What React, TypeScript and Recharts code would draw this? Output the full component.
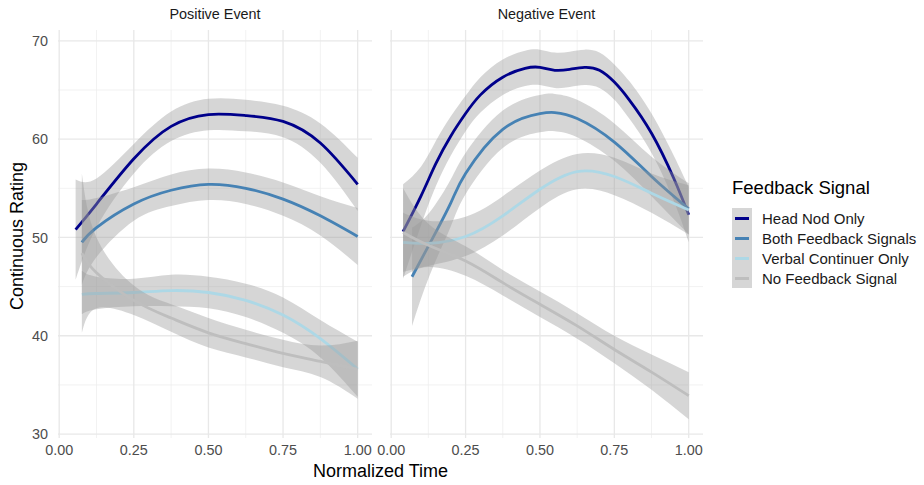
import React from "react";
import { ComposedChart, Line, Area, XAxis, YAxis, CartesianGrid } from "recharts";

const FONT = "'Liberation Sans', Arial, Helvetica, sans-serif";

const SERIES_NAMES = ["Head Nod Only", "Both Feedback Signals", "Verbal Continuer Only", "No Feedback Signal"];
const SERIES_COLORS = ["#00008B", "#4682B4", "#ADD8E6", "#BEBEBE"];
const PANEL_TITLES = ["Positive Event", "Negative Event"];
const X_TICKS = [0, 0.25, 0.5, 0.75, 1];
const X_MINOR = [0.125, 0.375, 0.625, 0.875];
const Y_TICKS = [30, 40, 50, 60, 70];
const Y_MINOR = [35, 45, 55, 65];

// ---- Positive Event ----
const posHeadX = [0.055, 0.125, 0.25, 0.375, 0.5, 0.625, 0.75, 0.875, 1.0];
const posHeadY = [50.8, 53.4, 58.0, 61.3, 62.5, 62.4, 61.8, 59.6, 55.4];
const posHeadLo = [45.7, 51.0, 56.5, 59.8, 60.9, 60.8, 60.2, 57.6, 52.7];
const posHeadHi = [55.9, 56.0, 59.5, 62.8, 64.1, 64.0, 63.4, 61.6, 58.1];

const posBothX = [0.076, 0.125, 0.25, 0.375, 0.5, 0.625, 0.75, 0.875, 1.0];
const posBothY = [49.5, 51.0, 53.4, 54.8, 55.4, 55.0, 53.9, 52.2, 50.1];
const posBothLo = [45.2, 48.0, 51.7, 53.2, 53.8, 53.4, 52.2, 50.2, 47.2];
const posBothHi = [53.8, 54.0, 55.1, 56.4, 57.0, 56.6, 55.6, 54.2, 53.0];

const posVerbX = [0.076, 0.125, 0.25, 0.375, 0.5, 0.625, 0.75, 0.875, 1.0];
const posVerbY = [44.2, 44.3, 44.4, 44.6, 44.4, 43.6, 42.1, 39.7, 36.6];
const posVerbLo = [42.2, 42.7, 43.0, 43.0, 42.8, 41.9, 40.3, 37.8, 33.8];
const posVerbHi = [46.6, 46.0, 45.8, 46.2, 46.0, 45.3, 43.9, 41.6, 39.4];

const posNoneX = [0.076, 0.125, 0.25, 0.375, 0.5, 0.625, 0.75, 0.875, 1.0];
const posNoneY = [48.4, 46.4, 43.6, 41.8, 40.3, 39.2, 38.2, 37.4, 36.6];
const posNoneLo = [40.3, 42.8, 42.1, 40.4, 38.8, 37.8, 36.8, 35.8, 33.6];
const posNoneHi = [56.5, 50.0, 45.1, 43.2, 41.8, 40.6, 39.6, 39.0, 39.5];

// ---- Negative Event ----
const negHeadX = [0.04, 0.1, 0.15, 0.2, 0.25, 0.3, 0.375, 0.45, 0.5, 0.55, 0.6, 0.65, 0.7, 0.75, 0.8, 0.875, 0.95, 1.0];
const negHeadY = [50.6, 54.2, 57.5, 60.3, 62.6, 64.5, 66.3, 67.2, 67.3, 67.0, 67.1, 67.3, 67.0, 65.8, 64.0, 60.6, 56.0, 52.3];
const negHeadLo = [45.8, 51.2, 55.2, 58.3, 60.8, 62.7, 64.5, 65.4, 65.5, 65.2, 65.3, 65.5, 65.2, 64.0, 62.1, 58.6, 53.7, 49.5];
const negHeadHi = [55.4, 57.2, 59.8, 62.3, 64.4, 66.3, 68.1, 69.0, 69.1, 68.8, 68.9, 69.1, 68.8, 67.6, 65.9, 62.6, 58.3, 55.1];

const negBothX = [0.07, 0.13, 0.2, 0.25, 0.375, 0.5, 0.55, 0.625, 0.75, 0.875, 1.0];
const negBothY = [46.0, 49.4, 53.5, 56.5, 61.0, 62.6, 62.7, 62.1, 59.7, 56.2, 52.9];
const negBothLo = [41.0, 46.2, 51.1, 54.4, 59.1, 60.7, 60.8, 60.2, 57.8, 54.2, 50.3];
const negBothHi = [51.0, 52.6, 55.9, 58.6, 62.9, 64.5, 64.6, 64.0, 61.6, 58.2, 55.5];

const negVerbX = [0.04, 0.125, 0.25, 0.375, 0.5, 0.625, 0.75, 0.875, 1.0];
const negVerbY = [49.5, 49.4, 50.1, 52.2, 54.9, 56.7, 56.2, 54.5, 52.8];
const negVerbLo = [46.5, 47.1, 48.1, 50.2, 53.0, 54.9, 54.3, 52.5, 50.3];
const negVerbHi = [52.5, 51.7, 52.1, 54.2, 56.8, 58.5, 58.1, 56.5, 55.3];

const negNoneX = [0.04, 0.125, 0.25, 0.375, 0.5, 0.625, 0.75, 0.875, 1.0];
const negNoneY = [50.5, 49.2, 47.6, 45.4, 43.2, 41.0, 38.6, 36.3, 33.9];
const negNoneLo = [46.0, 47.0, 46.1, 44.1, 41.9, 39.7, 37.2, 34.5, 31.5];
const negNoneHi = [55.0, 51.4, 49.1, 46.7, 44.5, 42.3, 40.0, 38.1, 36.3];

type Row = { x: number; y: number; band: [number, number] };
const rows = (xs: number[], ys: number[], lo: number[], hi: number[]): Row[] =>
  xs.map((x, i) => ({ x, y: ys[i], band: [lo[i], hi[i]] }));

const POS_SERIES = [
  rows(posHeadX, posHeadY, posHeadLo, posHeadHi),
  rows(posBothX, posBothY, posBothLo, posBothHi),
  rows(posVerbX, posVerbY, posVerbLo, posVerbHi),
  rows(posNoneX, posNoneY, posNoneLo, posNoneHi),
];
const NEG_SERIES = [
  rows(negHeadX, negHeadY, negHeadLo, negHeadHi),
  rows(negBothX, negBothY, negBothLo, negBothHi),
  rows(negVerbX, negVerbY, negVerbLo, negVerbHi),
  rows(negNoneX, negNoneY, negNoneLo, negNoneHi),
];

const X_DOMAIN: [number, number] = [-0.004, 1.048];
const Y_DOMAIN: [number, number] = [29.6, 71.1];
const tickStyle = { fill: "#4d4d4d", fontSize: 14.4, fontFamily: FONT };

function Panel({ series, showY, width, left, marginLeft, marginRight }: any) {
  const items: any[] = [];
  series.forEach((data: Row[], i: number) => {
    items.push(
      <Area
        key={"a" + i}
        data={data}
        dataKey="band"
        type="natural"
        stroke="none"
        fill="#999999"
        fillOpacity={0.4}
        isAnimationActive={false}
        activeDot={false}
        zIndex={100 + i * 10}
      />
    );
    items.push(
      <Line
        key={"l" + i}
        data={data}
        dataKey="y"
        type="natural"
        stroke={SERIES_COLORS[i]}
        strokeWidth={2.8}
        dot={false}
        activeDot={false}
        isAnimationActive={false}
        zIndex={105 + i * 10}
      />
    );
  });
  return (
    <div style={{ position: "absolute", left, top: 0 }}>
      <ComposedChart
        width={width}
        height={460}
        margin={{ top: 30, right: marginRight, bottom: 0, left: marginLeft }}
      >
        <CartesianGrid
          stroke="#ededed"
          strokeWidth={0.7}
          horizontalValues={Y_MINOR}
          verticalValues={X_MINOR}
        />
        <CartesianGrid
          stroke="#e8e8e8"
          strokeWidth={1.3}
          horizontalValues={Y_TICKS}
          verticalValues={X_TICKS}
        />
        <XAxis
          type="number"
          dataKey="x"
          domain={X_DOMAIN}
          ticks={X_TICKS}
          interval={0}
          allowDataOverflow
          tickFormatter={(v: number) => v.toFixed(2)}
          axisLine={false}
          tickLine={false}
          tickSize={0}
          tickMargin={7}
          height={22}
          tick={tickStyle}
        />
        <YAxis
          type="number"
          domain={Y_DOMAIN}
          ticks={Y_TICKS}
          interval={0}
          allowDataOverflow
          hide={!showY}
          width={58}
          axisLine={false}
          tickLine={false}
          tickSize={0}
          tickMargin={10}
          tick={tickStyle}
        />
        {items}
      </ComposedChart>
    </div>
  );
}

export default function App() {
  return (
    <div
      style={{
        position: "absolute",
        left: 0,
        top: 0,
        width: 924,
        height: 485,
        background: "#fff",
        fontFamily: FONT,
        overflow: "hidden",
      }}
    >
      <Panel series={POS_SERIES} showY={true} width={380} left={0} marginLeft={0} marginRight={8} />
      <Panel series={NEG_SERIES} showY={false} width={343} left={372} marginLeft={18} marginRight={12} />

      {/* strip titles */}
      <div style={{ position: "absolute", left: 58, width: 314, top: 6, textAlign: "center", fontSize: 14.4, color: "#1a1a1a" }}>
        {PANEL_TITLES[0]}
      </div>
      <div style={{ position: "absolute", left: 390, width: 313, top: 6, textAlign: "center", fontSize: 14.4, color: "#1a1a1a" }}>
        {PANEL_TITLES[1]}
      </div>

      {/* axis titles */}
      <div style={{ position: "absolute", left: 58, width: 645, top: 461, textAlign: "center", fontSize: 18, color: "#000" }}>
        Normalized Time
      </div>
      <div
        style={{
          position: "absolute",
          left: 17,
          top: 236,
          fontSize: 18,
          color: "#000",
          whiteSpace: "nowrap",
          transform: "translate(-50%, -50%) rotate(-90deg)",
        }}
      >
        Continuous Rating
      </div>

      {/* legend */}
      <div style={{ position: "absolute", left: 732, top: 177, color: "#000" }}>
        <div style={{ fontSize: 18.5, lineHeight: "22px", marginBottom: 9, whiteSpace: "nowrap" }}>Feedback Signal</div>
        {SERIES_NAMES.map((name, i) => (
          <div key={name} style={{ display: "flex", alignItems: "center", height: 20 }}>
            <div style={{ width: 20, height: 20, background: "#d6d6d6", position: "relative" }}>
              <div
                style={{
                  position: "absolute",
                  left: 3,
                  right: 3,
                  top: 8.5,
                  height: 3,
                  background: SERIES_COLORS[i],
                }}
              />
            </div>
            <div style={{ marginLeft: 10, fontSize: 15, whiteSpace: "nowrap", color: "#1a1a1a" }}>{name}</div>
          </div>
        ))}
      </div>
    </div>
  );
}
